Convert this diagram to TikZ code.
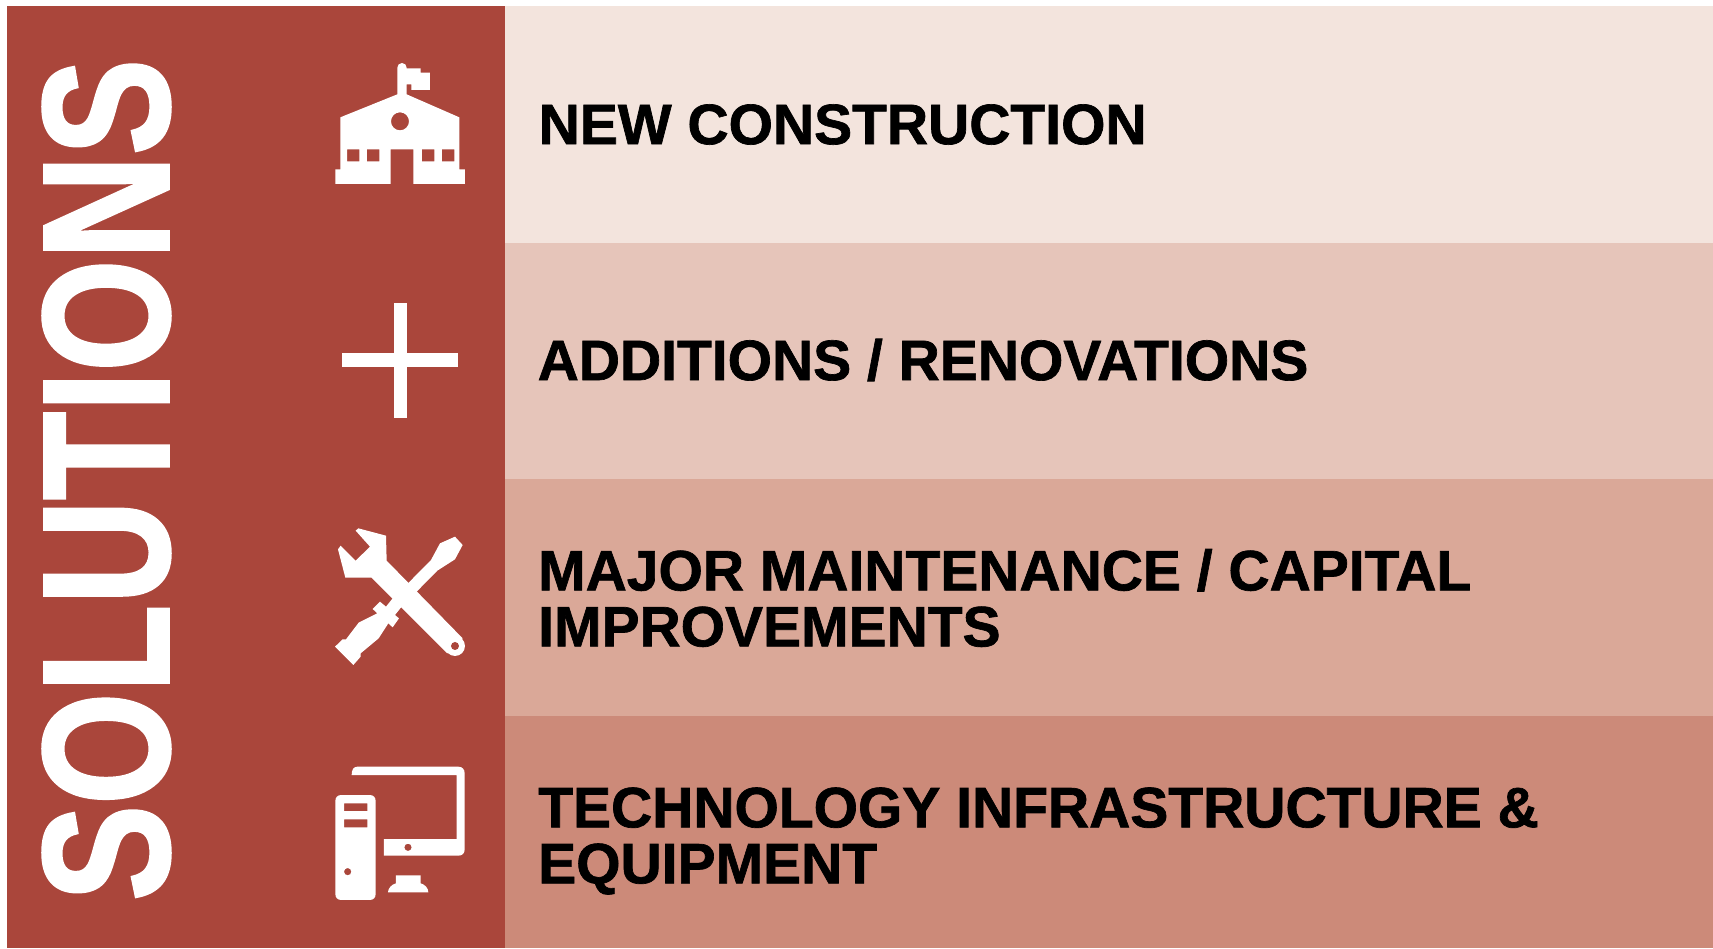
\documentclass[tikz,border=0pt]{standalone}
\usepackage{fontspec}
\setmainfont{Liberation Sans}[BoldFeatures={FakeBold=1.2}]
\newfontfamily\titlefont{Liberation Sans Bold}[FakeBold=1.6]
\definecolor{panelred}{HTML}{AA463B}
\definecolor{bandA}{HTML}{F3E4DD}
\definecolor{bandB}{HTML}{E6C5BA}
\definecolor{bandC}{HTML}{DAA898}
\definecolor{bandD}{HTML}{CC8A79}
\tikzset{
  rowlabel/.style={anchor=west,inner sep=0pt,align=left,text=black,font=\fontsize{57}{56}\selectfont\bfseries},
  icon/.style={fill=white,draw=none,even odd rule},
  iconscale/.style={x=0.3333pt,y=-0.3333pt}
}
\begin{document}
\begin{tikzpicture}[x=1pt,y=-1pt]
\useasboundingbox (0,0) rectangle (1713,948);
\fill[white] (0,0) rectangle (1713,948);
\fill[panelred] (6.5,5.5) rectangle (505,948);
\fill[bandA] (505,5.5) rectangle (1713,242.5);
\fill[bandB] (505,242.5) rectangle (1713,479);
\fill[bandC] (505,479) rectangle (1713,716);
\fill[bandD] (505,716) rectangle (1713,948);
\node[rotate=90,inner sep=0pt,text=white,font=\fontsize{175}{175}\titlefont] (title) at (106.5,480) {\scalebox{.825}[1.03]{SOLUTIONS}};
\node[rowlabel] (r1) at (538.5,124.5) {NEW CONSTRUCTION};
\node[rowlabel] (r2) at (537.5,360) {ADDITIONS / RENOVATIONS};
\node[rowlabel] (r3) at (538,598) {MAJOR MAINTENANCE / CAPITAL\\IMPROVEMENTS};
\node[rowlabel] (r4) at (538,841) {TECHNOLOGY INFRASTRUCTURE \&\\EQUIPMENT};
% school
\begin{scope}[shift={(310,40)},iconscale]
\fill[icon] (262,83) arc[start angle=180,end angle=360,radius=14] -- (290,85) -- (332,85) -- (332,98) -- (360,98) -- (360,150) -- (304,150) -- (304,133) -- (290,133) -- (290,163) -- (448,232) -- (448,388) -- (465,388) -- (465,432) -- (310,432) -- (310,328) -- (242,328) -- (242,432) -- (76,432) -- (76,388) -- (91,388) -- (91,232) -- (262,163) -- cycle
 (270,244) circle[radius=27]
 (111,328) rectangle (148,364) (171,328) rectangle (208,364)
 (336,328) rectangle (373,364) (396,328) rectangle (433,364);
\end{scope}
% plus
\fill[white] (342,353) rectangle (458,367);
\fill[white] (393.5,303) rectangle (406.5,418);
% tools
\begin{scope}[shift={(320,510)},iconscale]
\fill[white] (262,222) -- (333,150) -- (360,100) -- (405,80) -- (428,105) -- (405,148) -- (352,182) -- (288,247) -- (245,290) -- (225,315) -- (237,325) -- (218,352) -- (205,340) -- (176,385) -- (122,430) -- (122,440) -- (100,465) -- (45,410) -- (68,388) -- (78,388) -- (116,338) -- (172,310) -- (158,297) -- (180,275) -- (198,290) -- (218,265) -- cycle;
\fill[white] (107,62) -- (115,55) -- (198,77) -- (200,152) -- (428,385) -- (382,430) -- (155,203) -- (76,203) -- (54,118) -- (62,107) -- (107,152) -- (150,110) -- cycle;
\fill[white] (405,408) circle[radius=30];
\fill[panelred] (405,408) circle[radius=12];
\end{scope}
% computer
\begin{scope}[shift={(320,750)},iconscale]
\fill[icon] (95,75) .. controls (95,60) and (100,50) .. (112,50) -- (415,50) .. controls (427,50) and (434,58) .. (434,70) -- (434,298) .. controls (434,310) and (427,317) .. (415,317) -- (192,317) -- (192,267) -- (410,267) -- (410,75) -- cycle
 (264,292) circle[radius=11];
\fill[white] (228,376) -- (302,376) -- (302,400) .. controls (315,403) and (325,415) .. (325,427) -- (204,427) .. controls (204,415) and (215,403) .. (228,400) -- cycle;
\fill[icon] (64,135) -- (149,135) .. controls (160,135) and (167,142) .. (167,153) -- (167,432) .. controls (167,443) and (160,450) .. (149,450) -- (64,450) .. controls (53,450) and (46,443) .. (46,432) -- (46,153) .. controls (46,142) and (53,135) .. (64,135) -- cycle
 (72,160) rectangle (142,183) (72,208) rectangle (142,232)
 (83,365) circle[radius=11];
\end{scope}
\end{tikzpicture}
\end{document}
